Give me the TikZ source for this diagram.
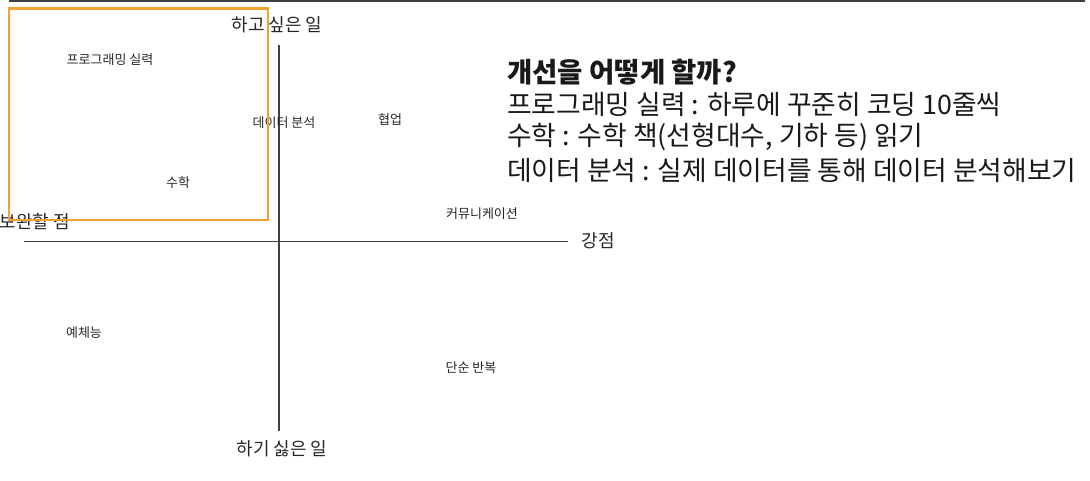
\documentclass[tikz,border=0pt]{standalone}
\usepackage{fontspec}
\setmainfont{Noto Sans CJK KR}
\begin{document}
\begin{tikzpicture}[x=1pt,y=-1pt,
  lbl/.style={inner sep=0pt, text=black!85, font=\fontsize{13}{15}\selectfont},
  axlbl/.style={inner sep=0pt, text=black!85, font=\fontsize{18}{21}\selectfont},
  note/.style={inner sep=0pt, anchor=west, text=black!90, font=\fontsize{26.8}{30}\selectfont},
  axis/.style={draw=black!75, line width=1.4pt},
  frame/.style={line width=2.4pt}]
\useasboundingbox (0,0) rectangle (1090,480);
\coordinate (tl) at (9,0.8);
\coordinate (tr) at (1085,0.8);
\draw[draw=black!75, line width=1.6pt] (tl) -- (tr);
% axes
\coordinate (vtop) at (279,45);
\coordinate (vbot) at (279,431);
\coordinate (hleft) at (24,241.5);
\coordinate (hright) at (568,241.5);
\draw[axis] (vtop) -- (vbot);
\draw[axis] (hleft) -- (hright);
% axis labels
\node[axlbl] (want) at (277,25) {하고 싶은 일};
\node[axlbl] (notwant) at (282,449) {하기 싫은 일};
\node[axlbl] (weak) at (35,222) {보완할 점};
\node[axlbl] (strong) at (598,241) {강점};
% items
\node[lbl] (prog) at (110,60) {프로그래밍 실력};
\node[lbl] (data) at (284,123) {데이터 분석};
\node[lbl] (collab) at (390,119) {협업};
\node[lbl] (math) at (178,183) {수학};
\node[lbl] (comm) at (482,214) {커뮤니케이션};
\node[lbl] (art) at (84,333) {예체능};
\node[lbl] (rep) at (471,368) {단순 반복};
% orange frame
\draw[frame, draw={rgb,255:red,245;green,160;blue,50}] (9,8.5) rectangle (268,220);
% notes
\node[note, font=\fontsize{27.5}{30}\selectfont\bfseries] (title) at (507,72) {개선을 어떻게 할까?};
\node[note] (n1) at (507,104) {프로그래밍 실력 : 하루에 꾸준히 코딩 10줄씩};
\node[note] (n2) at (507,137) {수학 : 수학 책(선형대수, 기하 등) 읽기};
\node[note] (n3) at (507,170) {데이터 분석 : 실제 데이터를 통해 데이터 분석해보기};
\end{tikzpicture}
\end{document}
